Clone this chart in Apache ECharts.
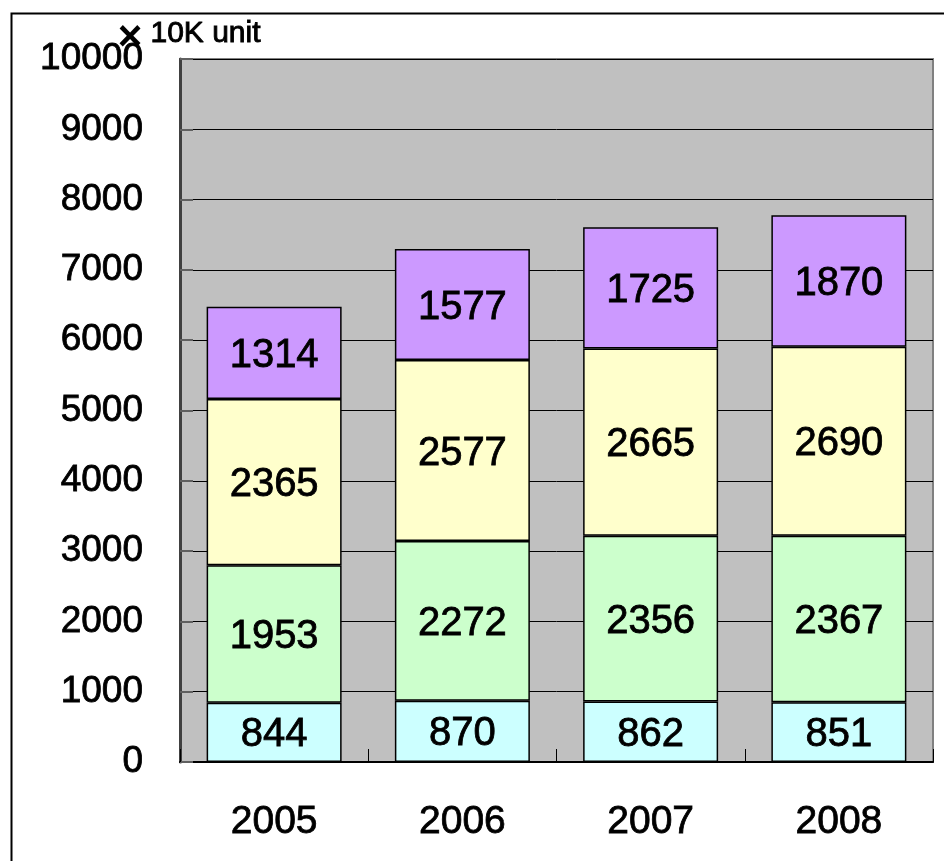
<!DOCTYPE html>
<html>
<head>
<meta charset="utf-8">
<script src="https://cdn.jsdelivr.net/npm/echarts@6/dist/echarts.min.js"></script>
<style>
html, body { margin: 0; padding: 0; background: #fff; }
#chart-box { width: 944px; height: 861px; }
</style>
</head>
<body>
<div id="chart-box"></div>
<script>
const years = ['2005', '2006', '2007', '2008'];
const cyanValues = [844, 870, 862, 851];
const greenValues = [1953, 2272, 2356, 2367];
const yellowValues = [2365, 2577, 2665, 2690];
const purpleValues = [1314, 1577, 1725, 1870];

function init(){
    const element = document.getElementById('chart-box');
    const instance = echarts.init(element);
    const font = '"Liberation Sans", Arial, sans-serif';

    function layer(name, values, color) {
        return {
            name: name,
            type: 'bar',
            stack: 'total',
            data: values,
            barWidth: 135,
            itemStyle: {
                color: color,
                borderColor: '#000',
                borderWidth: 1.5
            },
            label: {
                show: true,
                position: 'inside',
                color: '#000',
                fontSize: 40,
                fontFamily: font,
                textBorderColor: '#000',
                textBorderWidth: 0.8,
                offset: [0, 3]
            }
        };
    }

    let option = {
        animation: false,
        backgroundColor: '#fff',
        grid: {
            left: 180,
            right: 11,
            top: 59,
            bottom: 99,
            show: true,
            backgroundColor: '#C0C0C0',
            borderColor: '#808080',
            borderWidth: 2
        },
        graphic: [
            {
                type: 'rect',
                left: 9,
                top: 11,
                shape: { width: 1000, height: 1000 },
                style: { fill: 'none', stroke: '#000', lineWidth: 2 },
                silent: true
            },
            {
                type: 'text',
                x: 130,
                y: 38,
                style: {
                    text: '×',
                    font: 'bold 42px ' + font,
                    fill: '#000',
                    align: 'center',
                    verticalAlign: 'middle'
                }
            },
            {
                type: 'text',
                left: 150,
                top: 18,
                style: {
                    text: '10K unit',
                    font: '30px ' + font,
                    fill: '#000',
                    stroke: '#000',
                    lineWidth: 0.9
                }
            }
        ],
        xAxis: {
            type: 'category',
            data: years,
            axisLine: { show: true, lineStyle: { color: '#000', width: 2 } },
            axisTick: {
                show: true,
                inside: true,
                length: 13,
                lineStyle: { color: '#000', width: 1 }
            },
            axisLabel: {
                color: '#000',
                fontSize: 39,
                fontFamily: font,
                textBorderColor: '#000',
                textBorderWidth: 0.8,
                margin: 41
            }
        },
        yAxis: {
            type: 'value',
            min: 0,
            max: 10000,
            interval: 1000,
            axisLine: { show: true, lineStyle: { color: '#404040', width: 3 } },
            axisTick: {
                show: true,
                inside: true,
                length: 13,
                lineStyle: { color: '#606060', width: 2 }
            },
            splitLine: { show: true, lineStyle: { color: '#000', width: 1 } },
            axisLabel: {
                color: '#000',
                fontSize: 37,
                fontFamily: font,
                textBorderColor: '#000',
                textBorderWidth: 0.8,
                margin: 37,
                verticalAlign: 'middle',
                padding: [8, 0, 0, 0],
                formatter: function (v) { return String(v); }
            }
        },
        series: [
            layer('cyan', cyanValues, '#CCFFFF'),
            layer('green', greenValues, '#CCFFCC'),
            layer('yellow', yellowValues, '#FFFFCC'),
            layer('purple', purpleValues, '#CC99FF')
        ]
    };

    instance && instance.setOption(option);

    window.onresize = function(){
        instance.resize();
    };
}
init();
</script>
</body>
</html>
